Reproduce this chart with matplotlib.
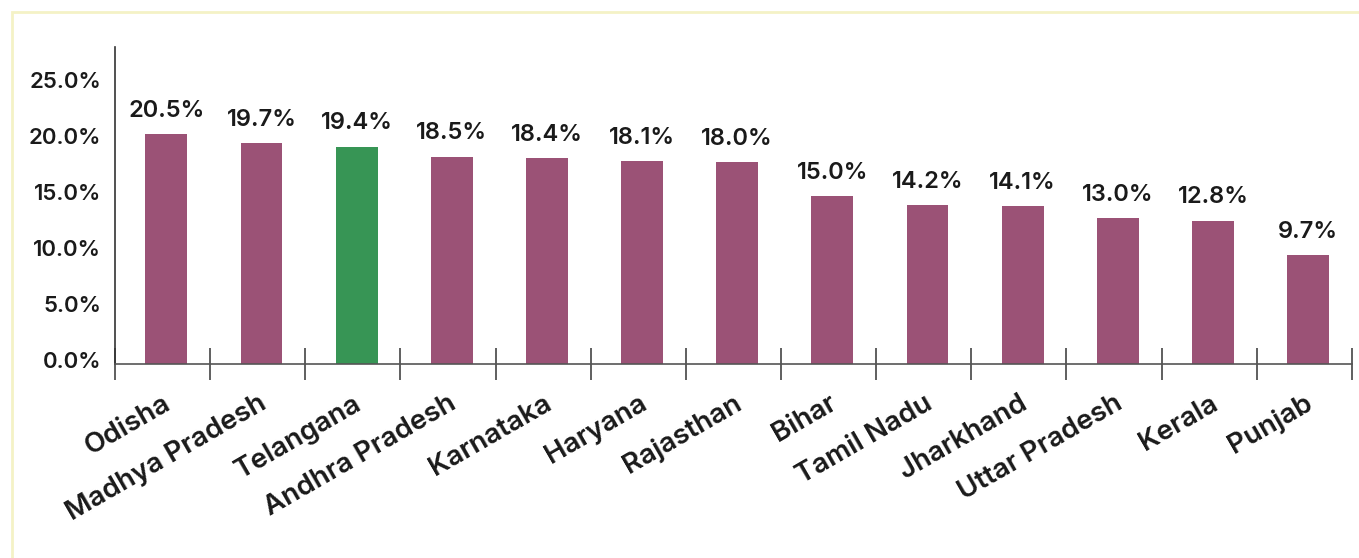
import matplotlib.pyplot as plt
import matplotlib.patches as patches
import matplotlib.transforms as mtransforms
import numpy as np

states = ['Odisha', 'Madhya Pradesh', 'Telangana', 'Andhra Pradesh', 'Karnataka',
          'Haryana', 'Rajasthan', 'Bihar', 'Tamil Nadu', 'Jharkhand',
          'Uttar Pradesh', 'Kerala', 'Punjab']
values = [20.5, 19.7, 19.4, 18.5, 18.4, 18.1, 18.0, 15.0, 14.2, 14.1, 13.0, 12.8, 9.7]
highlight = 'Telangana'

purple = '#9b5276'
green = '#379555'

plt.rcParams['font.family'] = ['Inter', 'DejaVu Sans']
plt.rcParams['font.weight'] = 'semibold'

fig = plt.figure(figsize=(13.59, 5.58), dpi=100)
ax = fig.add_axes([0.0846, 0.3477, 0.9102, 0.5681])

# light yellow frame round the chart
fig.patches.append(patches.Rectangle((12/1359, -0.05), 1.2, 1 - 12/558 + 0.05,
                                     transform=fig.transFigure, fill=False,
                                     edgecolor='#f4f2c6', lw=2))

x = np.arange(len(states))
colors = [green if s == highlight else purple for s in states]
ax.bar(x + 0.04, values, width=0.44, color=colors)

for xi, v in zip(x, values):
    ax.text(xi + 0.04, v + 1.1, f'{v:.1f}%', ha='center', va='bottom',
            fontsize=17, fontweight='semibold', color='#1a1a1a')

ax.set_xlim(-0.5, len(states) - 0.5)
ax.set_ylim(0, 28.3)
ax.set_yticks(np.arange(0, 26, 5))
ax.set_yticklabels([f'{t:.1f}%' for t in np.arange(0, 26, 5)])
ax.tick_params(axis='y', length=0, pad=10, labelsize=16, labelcolor='#1a1a1a')
# nudge y labels up a little, as in the original
shift = mtransforms.ScaledTranslation(0, 3/72, fig.dpi_scale_trans)
for lab in ax.get_yticklabels():
    lab.set_transform(lab.get_transform() + shift)

ax.set_xticks(x)
ax.set_xticklabels(states, rotation=30, ha='right', rotation_mode='anchor',
                   fontsize=20, fontweight='semibold', color='#1a1a1a')
ax.tick_params(axis='x', which='major', length=0, pad=19)
ax.set_xticks(np.arange(-0.5, len(states), 1), minor=True)
ax.tick_params(axis='x', which='minor', direction='inout', length=23,
               width=1.2, color='#444444')

for side in ['top', 'right']:
    ax.spines[side].set_visible(False)
ax.spines['left'].set_color('#333333')
ax.spines['left'].set_linewidth(1.2)
ax.spines['bottom'].set_color('#555555')
ax.spines['bottom'].set_linewidth(1.2)

fig.savefig('out.png', dpi=100)
